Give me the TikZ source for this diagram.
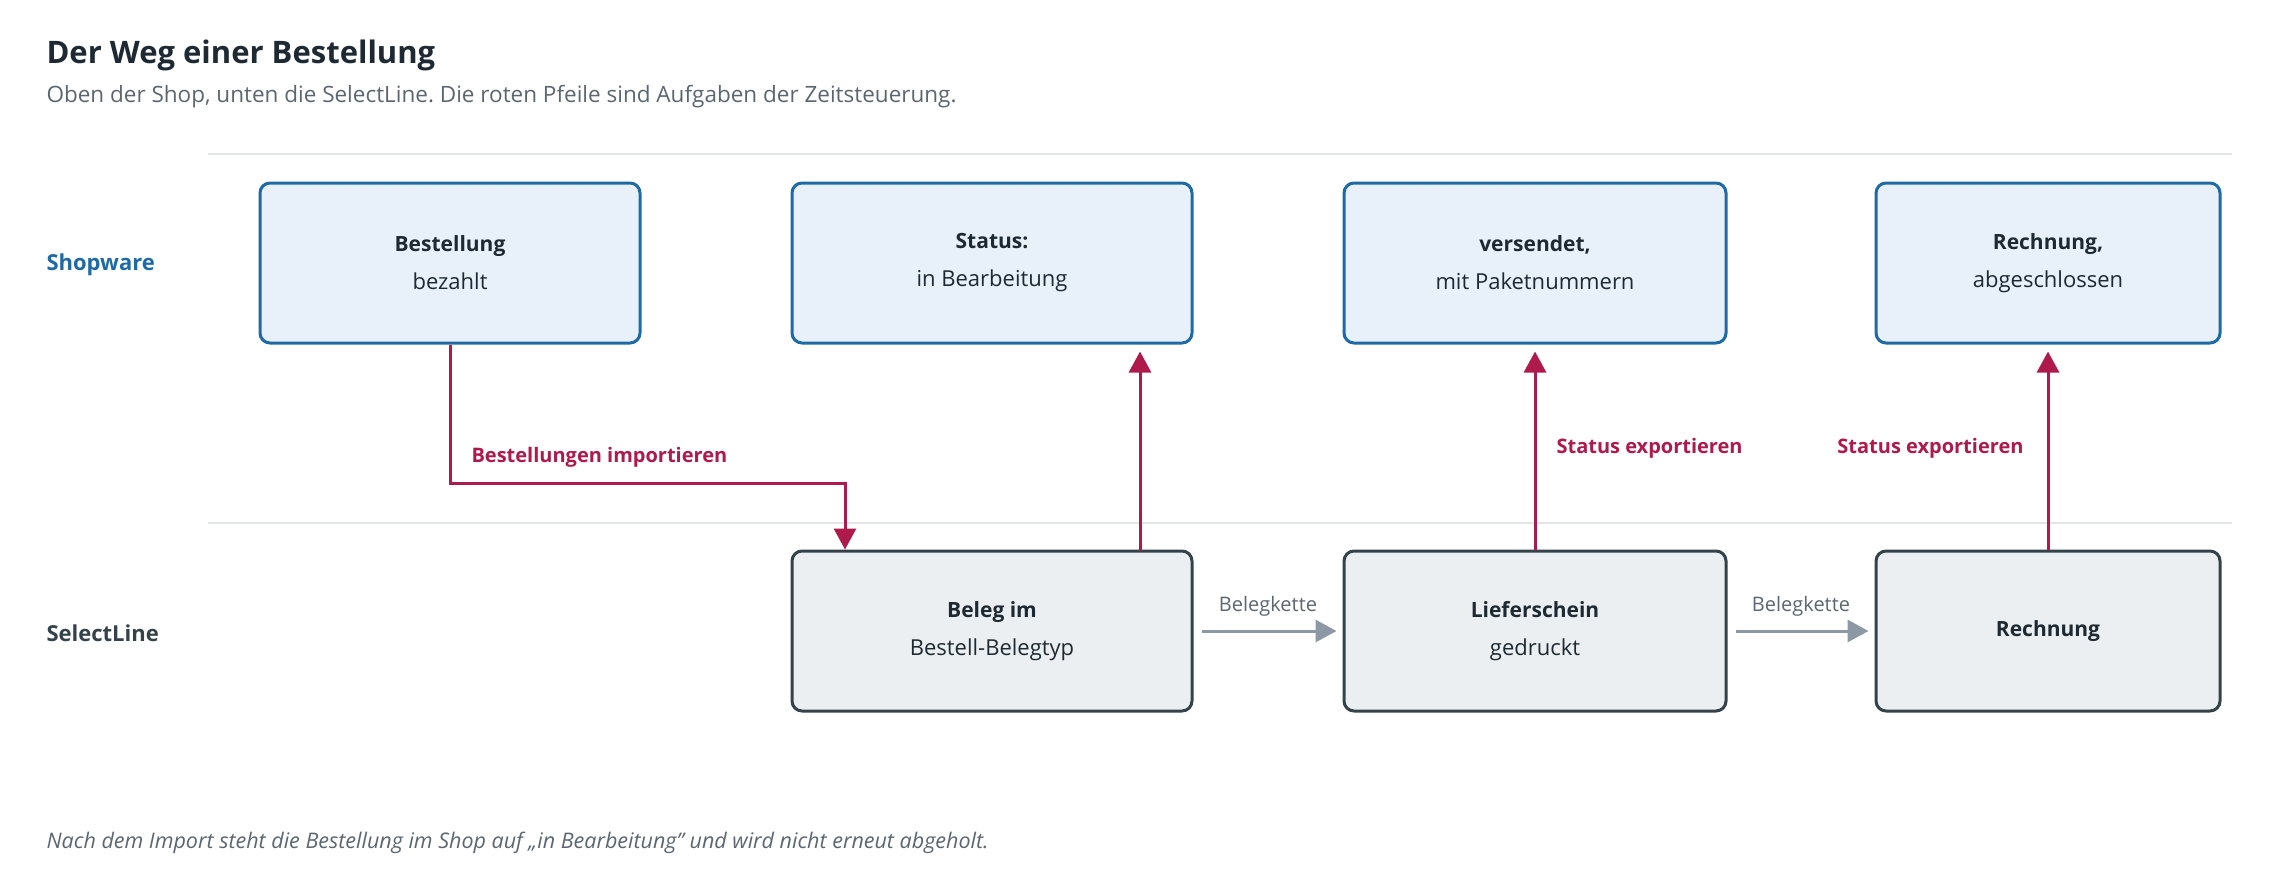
\documentclass[tikz,border=0pt]{standalone}
\usepackage{fontspec}
\setmainfont{Open Sans}
\usepackage{tikz}
\usetikzlibrary{arrows.meta, positioning}
\definecolor{titel}{HTML}{1E2A33}
\definecolor{untertitel}{HTML}{5B6670}
\definecolor{shopblau}{HTML}{1F6AA5}
\definecolor{shopfill}{HTML}{E8F1F9}
\definecolor{slrand}{HTML}{344349}
\definecolor{slfill}{HTML}{ECEFF1}
\definecolor{pfeilrot}{HTML}{AD1A4B}
\definecolor{kettengrau}{HTML}{8C98A4}
\definecolor{trenner}{HTML}{E3E6E9}
\tikzset{>={Triangle[length=21pt,width=22pt]}}
\frenchspacing

\begin{document}
\begin{tikzpicture}[x=1pt, y=-1pt,
    shop/.style={draw=shopblau, fill=shopfill, line width=3pt, rounded corners=10pt,
      minimum height=160pt, align=center, text=titel, font=\fontsize{22}{38}\selectfont},
    sl/.style={shop, draw=slrand, fill=slfill},
    export/.style={->, draw=pfeilrot, line width=3pt, shorten >=7pt},
    kette/.style={->, draw=kettengrau, line width=3pt, shorten <=8pt, shorten >=6pt},
    rotlabel/.style={text=pfeilrot, font=\fontsize{20}{24}\selectfont\bfseries},
    kettlabel/.style={text=untertitel, font=\fontsize{20}{24}\selectfont},
    spur/.style={anchor=west, font=\fontsize{22}{26}\selectfont\bfseries}]
    \useasboundingbox (0,0) rectangle (2280,880);

    \node[anchor=west, text=titel, font=\fontsize{31}{36}\selectfont\bfseries] (titel) at (43,55) {Der Weg einer Bestellung};
    \node[anchor=west, text=untertitel, font=\fontsize{22.5}{26}\selectfont] (sub) at (43,97) {Oben der Shop, unten die SelectLine. Die roten Pfeile sind Aufgaben der Zeitsteuerung.};

    \draw[trenner, line width=2pt] (208,154) -- (2232,154);
    \draw[trenner, line width=2pt] (208,523) -- (2232,523);

    \node[spur, text=shopblau] (shopware) at (43,265) {Shopware};
    \node[spur, text=slrand] (selectline) at (43,633) {SelectLine};

    \node[shop, minimum width=380pt] (B1) at (450,263) {\textbf{\fontsize{21}{38}\selectfont Bestellung}\\bezahlt};
    \node[shop, minimum width=400pt] (B2) at (992,263) {\textbf{\fontsize{21}{38}\selectfont Status:}\\in Bearbeitung};
    \node[shop, minimum width=382pt] (B3) at (1535,263) {\textbf{\fontsize{21}{38}\selectfont versendet,}\\mit Paketnummern};
    \node[shop, minimum width=344pt] (B4) at (2048,263) {\textbf{\fontsize{21}{38}\selectfont Rechnung,}\\abgeschlossen};

    \node[sl, minimum width=400pt] (S1) at (992,631) {\textbf{\fontsize{21}{38}\selectfont Beleg im}\\Bestell-Belegtyp};
    \node[sl, minimum width=382pt] (S2) at (1535,631) {\textbf{\fontsize{21}{38}\selectfont Lieferschein}\\gedruckt};
    \node[sl, minimum width=344pt] (S3) at (2048,631) {\textbf{\fontsize{21}{38}\selectfont Rechnung}};

    \coordinate (knick) at (845,483);
    \coordinate (hoch) at (1140,551);
    \draw[export, rounded corners=0pt, shorten >=0pt] (B1.south) |- (knick) -- (knick |- S1.north);
    \node[rotlabel, anchor=west] (import) at (468,457) {Bestellungen importieren};
    \draw[export] (hoch) -- (hoch |- B2.south);
    \draw[export] (S2.north) -- (B3.south);
    \draw[export] (S3.north) -- (B4.south);
    \node[rotlabel, anchor=west] (exp1) at (1553,448) {Status exportieren};
    \node[rotlabel, anchor=east] (exp2) at (2027,448) {Status exportieren};

    \draw[kette] (S1.east) -- node[kettlabel, above=10pt] {Belegkette} (S2.west);
    \draw[kette] (S2.east) -- node[kettlabel, above=10pt] {Belegkette} (S3.west);

    \node[anchor=west, text=untertitel, font=\fontsize{21.5}{26}\selectfont\itshape] (fuss) at (43,843) {Nach dem Import steht die Bestellung im Shop auf „in Bearbeitung" und wird nicht erneut abgeholt.};
\end{tikzpicture}
\end{document}
